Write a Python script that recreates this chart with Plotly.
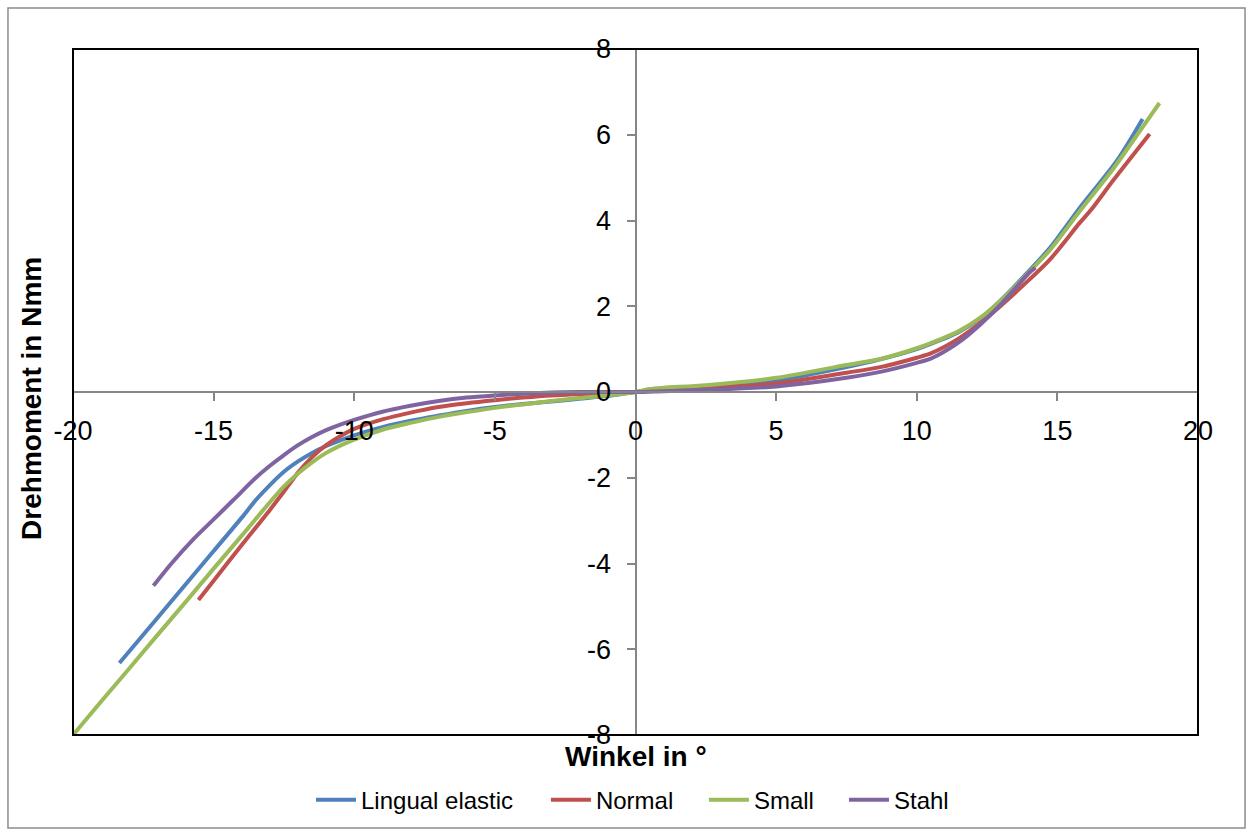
import plotly.graph_objects as go

# ---- data ----
lingual_x = [-18.35, -17.0, -16.0, -15.0, -14.0, -13.5, -13.0, -12.5, -12.0, -11.5, -11.0, -10.0, -9.0, -8.0, -7.0, -6.0, -5.0, -4.0, -3.0, -2.0, -1.0, 0.0, 1.0, 2.5, 5.0, 7.5, 8.7, 10.0, 10.5, 11.5, 12.3, 13.0, 14.0, 14.76, 15.8, 17.13, 18.03]
lingual_y = [-6.32, -5.27, -4.49, -3.71, -2.93, -2.52, -2.17, -1.86, -1.62, -1.42, -1.26, -1.01, -0.82, -0.67, -0.55, -0.44, -0.35, -0.28, -0.22, -0.16, -0.09, 0.0, 0.07, 0.13, 0.27, 0.58, 0.76, 1.0, 1.12, 1.4, 1.74, 2.15, 2.83, 3.38, 4.3, 5.41, 6.37]

normal_x = [-15.54, -15.0, -14.0, -13.0, -12.5, -12.0, -11.5, -11.0, -10.5, -10.0, -9.0, -8.0, -7.0, -6.0, -5.0, -4.0, -3.0, -2.0, -1.0, 0.0, 1.0, 2.5, 5.0, 7.5, 8.7, 10.0, 10.5, 11.5, 12.3, 13.0, 14.0, 14.75, 15.8, 16.2, 17.0, 18.28]
normal_y = [-4.85, -4.40, -3.57, -2.75, -2.32, -1.88, -1.52, -1.24, -1.03, -0.86, -0.64, -0.48, -0.35, -0.26, -0.19, -0.13, -0.08, -0.05, -0.03, 0.0, 0.04, 0.09, 0.2, 0.45, 0.58, 0.8, 0.9, 1.25, 1.63, 2.02, 2.62, 3.1, 3.95, 4.25, 4.95, 6.02]

small_x = [-20.0, -19.0, -18.0, -17.0, -16.0, -15.0, -14.0, -13.0, -12.5, -12.0, -11.5, -11.0, -10.5, -10.0, -9.0, -8.0, -7.0, -6.0, -5.0, -4.0, -3.0, -2.0, -1.0, 0.0, 0.5, 1.0, 2.5, 5.0, 7.5, 8.7, 10.0, 10.5, 11.5, 12.3, 13.0, 14.0, 14.76, 15.8, 17.0, 18.0, 18.63]
small_y = [-8.0, -7.22, -6.45, -5.67, -4.90, -4.12, -3.35, -2.57, -2.20, -1.90, -1.64, -1.42, -1.25, -1.11, -0.88, -0.72, -0.58, -0.47, -0.37, -0.29, -0.21, -0.14, -0.08, 0.0, 0.07, 0.1, 0.16, 0.33, 0.63, 0.77, 1.02, 1.14, 1.42, 1.75, 2.14, 2.8, 3.33, 4.22, 5.22, 6.15, 6.74]

stahl_x = [-17.14, -16.5, -15.7, -15.0, -14.3, -13.5, -13.0, -12.5, -12.0, -11.5, -11.0, -10.5, -10.0, -9.0, -8.0, -7.0, -6.0, -5.0, -4.0, -3.0, -2.0, -1.0, 0.0, 1.0, 2.5, 5.0, 7.5, 8.7, 10.0, 10.5, 11.0, 11.6, 12.3, 13.0, 14.0, 14.22]
stahl_y = [-4.52, -4.0, -3.42, -2.97, -2.52, -2.0, -1.72, -1.47, -1.24, -1.05, -0.89, -0.76, -0.65, -0.46, -0.32, -0.21, -0.13, -0.08, -0.04, -0.01, 0.0, 0.0, 0.0, 0.02, 0.05, 0.13, 0.33, 0.47, 0.68, 0.78, 0.95, 1.21, 1.6, 2.05, 2.78, 2.9]

series_names = ["Lingual elastic", "Normal", "Small", "Stahl"]
series_colors = ["#4F81BD", "#C0504D", "#9BBB59", "#8064A2"]

x_tickvals = [-20, -15, -10, -5, 0, 5, 10, 15, 20]
x_ticktext = ["-20", "-15", "-10", "-5", "0", "5", "10", "15", "20"]
y_tickvals = [-8, -6, -4, -2, 0, 2, 4, 6, 8]
y_ticktext = ["-8", "-6", "-4", "-2", "0", "2", "4", "6", "8"]

x_title = "Winkel in °"
y_title = "Drehmoment in Nmm"

FONT = "Arial, Liberation Sans, sans-serif"

# horizontal placement of each legend entry (container fraction)
legend_ids = ["legend", "legend2", "legend3", "legend4"]
legend_pos = [0.2494, 0.4378, 0.5645, 0.6768]

fig = go.Figure()
for name, color, xs, ys, lid in zip(series_names, series_colors,
                                    [lingual_x, normal_x, small_x, stahl_x],
                                    [lingual_y, normal_y, small_y, stahl_y], legend_ids):
    fig.add_trace(go.Scatter(x=xs, y=ys, mode="lines", name=name, legend=lid,
                             line=dict(color=color, width=4, shape="spline", smoothing=0.8)))

axis_common = dict(
    showgrid=False, zeroline=False, showline=True, linecolor="#868686", linewidth=2,
    ticks="outside", ticklen=8, tickwidth=2, tickcolor="#868686",
    tickfont=dict(family=FONT, size=27, color="black"),
    anchor="free", position=0.5,
)

legend_layout = {}
for lid, lx in zip(legend_ids, legend_pos):
    legend_layout[lid] = dict(orientation="h", xref="container", yref="container",
                              x=lx, xanchor="left", y=0.0361, yanchor="middle",
                              font=dict(family=FONT, size=24, color="black"),
                              bgcolor="rgba(0,0,0,0)", borderwidth=0, itemwidth=40)

fig.update_layout(
    width=1247, height=830,
    margin=dict(l=73, r=49, t=49, b=95, autoexpand=False),
    paper_bgcolor="white", plot_bgcolor="white",
    xaxis=dict(range=[-20, 20], tickvals=x_tickvals, ticktext=x_ticktext,
               ticklabelstandoff=7, **axis_common),
    yaxis=dict(range=[-8, 8], tickvals=y_tickvals, ticktext=y_ticktext,
               ticklabelstandoff=10, **axis_common),
    showlegend=True,
    annotations=[
        dict(text=f"<b>{x_title}</b>", xref="paper", yref="paper", x=0.5, y=-0.032,
             xanchor="center", yanchor="middle", showarrow=False,
             font=dict(family=FONT, size=28, color="black")),
        dict(text=f"<b>{y_title}</b>", xref="paper", yref="paper", x=-0.0364, y=0.49,
             xanchor="center", yanchor="middle", showarrow=False, textangle=-90,
             font=dict(family=FONT, size=28, color="black")),
    ],
    shapes=[
        dict(type="rect", xref="paper", yref="paper", x0=0, y0=0, x1=1, y1=1,
             line=dict(color="black", width=2), layer="above"),
        dict(type="rect", xref="paper", yref="paper", x0=-0.0578, y0=-0.1356, x1=1.0418, y1=1.0598,
             line=dict(color="#8c8c8c", width=1.5), layer="above"),
    ],
    **legend_layout,
)

fig.write_html("out.html", config={"displayModeBar": False},
               post_script="document.body.style.margin='0';document.body.style.overflow='hidden';")
